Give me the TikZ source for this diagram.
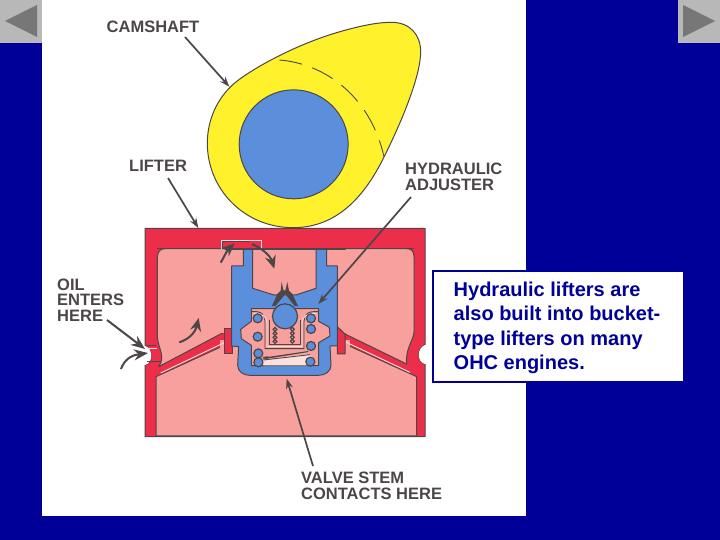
\documentclass[tikz,border=0pt]{standalone}
\usepackage{fontspec}
\setmainfont{Liberation Sans}
\usetikzlibrary{arrows.meta}
\definecolor{navybg}{HTML}{000099}
\definecolor{btn}{HTML}{B8B8B8}
\definecolor{btntri}{HTML}{777777}
\definecolor{ink}{HTML}{4C4646}
\definecolor{camy}{HTML}{FFF22C}
\definecolor{bluep}{HTML}{5B8FDC}
\definecolor{redp}{HTML}{EC2E4A}
\definecolor{salm}{HTML}{F7A09E}
\definecolor{pale}{HTML}{FCE0DC}
\tikzset{
 lab/.style={font=\bfseries\fontsize{16.5}{18}\selectfont,text=ink,inner sep=0pt,anchor=base west,align=left},
 lead/.style={draw=ink,line width=1.7pt,-{Stealth[length=10pt,width=7pt]}},
 bighead/.style={draw=ink,line width=2pt,-{Stealth[length=14pt,width=11pt]}},
 flow/.style={draw=ink,line width=2pt,-{Stealth[length=13pt,width=11pt]}},
 edge/.style={draw=ink,line width=1pt,line join=round},
 thin edge/.style={draw=ink,line width=.9pt},
 bead/.style={draw=ink,line width=1.2pt,fill=bluep},
}
\begin{document}
\begin{tikzpicture}[x=1pt,y=-1pt]
\useasboundingbox (0,0) rectangle (720,540);
\fill[navybg] (0,0) rectangle (720,540);
\fill[white] (42,0) rectangle (526,516);
% buttons
\fill[btn] (0,0) rectangle (42,43);
\fill[btntri] (5,21) -- (37,5) -- (37,37) -- cycle;
\fill[btn] (678,0) rectangle (720,43);
\fill[btntri] (683,5) -- (683,37) -- (715,21) -- cycle;
% camshaft
\begin{scope}[shift={(200,15)},x=0.33333pt,y=-0.33333pt]
\draw[edge,fill=camy] (22,385) .. controls (22,310) and (55,250) .. (95,212)
  .. controls (140,170) and (280,90) .. (420,50)
  .. controls (480,33) and (530,22) .. (575,22)
  .. controls (630,22) and (662,60) .. (662,110)
  .. controls (662,180) and (610,310) .. (550,430)
  .. controls (500,530) and (420,638) .. (280,638)
  .. controls (130,638) and (22,520) .. (22,385) -- cycle;
\draw[ink,line width=.9pt,dash pattern=on 23pt off 11pt] (238,135) .. controls (370,145) and (510,240) .. (552,425);
\node[circle,draw=ink,line width=1pt,fill=bluep,minimum size=109pt,inner sep=0pt] (basecircle) at (281,388) {};
\coordinate (tipcam) at (88,215);
\end{scope}
% lifter section, drawn in the coordinates of the 3x crop
\begin{scope}[shift={(130,220)},x=0.33333pt,y=-0.33333pt]
\draw[edge,fill=redp] (45,25) -- (885,25) -- (885,375) .. controls (860,385) and (860,425) .. (885,432) -- (885,650) -- (45,650) -- (45,435) .. controls (70,430) and (70,385) .. (45,378) -- cycle;
\fill[white] (45,378) .. controls (70,385) and (70,430) .. (45,435) -- (35,435) -- (35,378) -- cycle;
\fill[white] (885,375) .. controls (860,385) and (860,425) .. (885,432) -- (895,432) -- (895,375) -- cycle;
% salmon chambers
\draw[edge,fill=salm] (105,86) -- (830,86) .. controls (845,86) and (852,95) .. (852,110) -- (852,335) .. controls (852,360) and (825,385) .. (830,432) -- (645,342) -- (645,88) -- (285,88) -- (285,335) -- (86,440) .. controls (108,410) and (84,385) .. (82,350) -- (82,110) .. controls (84,95) and (90,86) .. (105,86) -- cycle;
\draw[edge,fill=salm] (78,470) -- (285,375) -- (285,402) -- (640,402) -- (645,372) -- (860,470) -- (860,648) -- (78,648) -- cycle;
\fill[salm] (270,89) rectangle (660,340);
\fill[salm] (270,360) rectangle (660,470);
\draw[edge] (82,86) -- (852,86);
\draw[pale,line width=.9pt] (92,459) -- (285,367);
\draw[pale,line width=.9pt] (645,365) -- (840,457);
% oil gallery in the wall
\draw[edge] (50,378) -- (78,378);
\draw[edge] (52,424) -- (92,424);
\draw[pale,line width=.8pt] (52,384) -- (82,384);
% pocket at the top
\draw[draw=pale,line width=.9pt] (275,86) -- (275,60) -- (395,60) -- (395,86);
\draw[edge] (278,86) -- (278,66) -- (360,66);
% tabs
\draw[edge,fill=redp] (282,325) -- (306,325) -- (306,402) -- (282,402) -- cycle;
\draw[edge,fill=redp] (622,320) -- (645,342) -- (645,402) -- (622,402) -- cycle;
% blue lifter body
\draw[edge,fill=bluep] (305,138) -- (340,138) -- (340,88) -- (368,88) -- (368,205) -- (432,225) -- (498,225) -- (558,205) -- (558,88) -- (590,88) -- (590,138) -- (622,138) -- (622,378) -- (600,378) -- (603,435) .. controls (603,455) and (585,466) .. (565,466) -- (360,466) .. controls (340,466) and (323,455) .. (323,435) -- (326,380) -- (305,378) -- cycle;
% cavity
\draw[edge,fill=salm] (364,266) -- (566,266) -- (566,304) -- (598,322) -- (600,348) -- (566,368) -- (566,437) -- (364,437) -- (364,376) -- (334,356) -- (332,328) -- (364,304) -- cycle;
\fill[pale] (400,418) -- (530,403) -- (545,408) -- (545,436) -- (400,436) -- cycle;
% inner sleeve
\draw[thin edge] (365,275) .. controls (395,272) and (405,285) .. (405,305) -- (405,386) -- (522,386) -- (522,305) .. controls (522,285) and (532,272) .. (565,275);
\draw[pale,line width=.9pt] (372,281) .. controls (395,278) and (411,290) .. (411,310) -- (411,380) -- (516,380) -- (516,310) .. controls (516,290) and (532,278) .. (558,281);
\draw[thin edge] (417,300) -- (417,374) -- (510,374) -- (510,300);
% springs
\foreach \nm/\px/\py in {a/383/295,b/383/350,c/385/400,d/385/427,e/543/295,f/543/327,g/543/378,h/541/425}
  \node[circle,bead,minimum size=9pt,inner sep=0pt] (spring\nm) at (\px,\py) {};
\foreach \py in {328,340,352,364} {
  \draw[ink,line width=1.2pt,fill=salm] (435,\py) circle (1.9pt);
  \draw[ink,line width=1.2pt,fill=salm] (487,\py) circle (1.9pt);
}
% check valve and ball
\fill[ink] (426,258) -- (442,222) -- (452,212) -- (455,186) -- (460,210) -- (466,212) -- (472,186) -- (477,212) -- (487,222) -- (504,258) -- (494,258) -- (466,222) -- (436,258) -- cycle;
\node[circle,draw=ink,line width=1.2pt,fill=bluep,minimum size=25pt,inner sep=0pt] (ball) at (465,289) {};
\fill[ink] (400,413) -- (535,393) -- (535,396) -- (400,418) -- cycle;
\draw[thin edge] (400,420) -- (540,404);
\draw[thin edge] (398,412) -- (415,410);
% oil flow arrows
\coordinate (fa) at (272,128); \coordinate (fb) at (314,70);
\draw[flow] (fa) .. controls (282,112) and (290,92) .. (fb);
\coordinate (fc) at (366,72); \coordinate (fd) at (433,146);
\draw[flow] (fc) .. controls (395,85) and (420,105) .. (fd);
\coordinate (fe) at (148,367); \coordinate (ff) at (206,294);
\draw[flow] (fe) .. controls (175,358) and (195,340) .. (ff);
% leader ends
\coordinate (tipadj) at (565,252);
\coordinate (tipoila) at (45,387);
\coordinate (tipoilb) at (54,399);
\coordinate (tipstem) at (470,476);
\coordinate (tiplift) at (205,24);
\end{scope}
% labels
\node[lab] (lcam) at (106.5,33) {CAMSHAFT};
\node[lab] (llift) at (129,172) {LIFTER};
\node[lab] (lhyd) at (405,175) {HYDRAULIC};
\node[lab] (ladj) at (405,191) {ADJUSTER};
\node[lab] (loil) at (57,290) {OIL};
\node[lab] (lent) at (57,305) {ENTERS};
\node[lab] (lher) at (57,321) {HERE};
\node[lab] (lval) at (301,483) {VALVE STEM};
\node[lab] (lcon) at (301,499) {CONTACTS HERE};
% leader starts
\coordinate (scam) at (185,37);
\coordinate (slift) at (168,178);
\coordinate (sadj) at (411,197);
\coordinate (soila) at (107,320);
\coordinate (soilb) at (121,369);
\coordinate (sstem) at (313,466);
\draw[lead] (scam) -- (tipcam);
\draw[lead] (slift) -- (tiplift);
\draw[lead] (sadj) -- (tipadj);
\draw[bighead] (soila) -- (tipoila);
\draw[bighead] (soilb) .. controls (125,358) and (133,355) .. (tipoilb);
\draw[lead] (sstem) -- (tipstem);
% text box
\node[draw=navybg,line width=2pt,fill=white,minimum width=251pt,minimum height=111pt,inner sep=0pt] (box) at (558,326) {};
\node[anchor=north west,inner sep=0pt,text=navybg,align=left,font=\bfseries\fontsize{20}{24.3}\selectfont] (boxtext) at (453.5,282) {Hydraulic lifters are\\also built into bucket-\\type lifters on many\\OHC engines.};
\end{tikzpicture}
\end{document}
